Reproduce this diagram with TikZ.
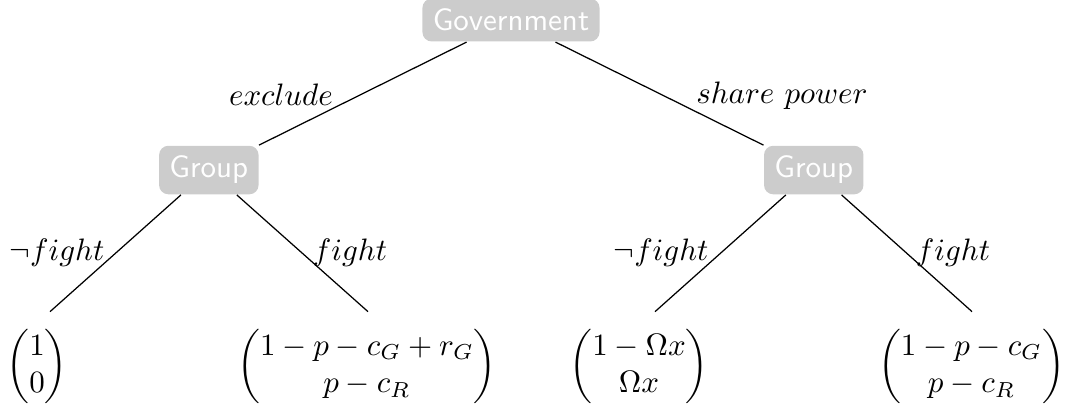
\documentclass[tikz,border=0pt]{standalone}
\usepackage{amsmath,amssymb}

\begin{document}
\begin{tikzpicture}[player/.style={fill=gray!40, text=white, rounded corners=3pt, font=\sffamily}]
	\useasboundingbox (0,0) rectangle (12.212,-4.694);
	% decision nodes
	\node[player] (gov) at (5.794,-0.227) {Government};
	\node[player] (grpL) at (2.368,-1.928) {Group};
	\node[player] (grpR) at (9.227,-1.928) {Group};
	% free ends of the last branches
	\coordinate (endA) at (0.567,-3.534);
	\coordinate (endB) at (4.173,-3.534);
	\coordinate (endC) at (7.427,-3.534);
	\coordinate (endD) at (11.022,-3.534);
	\draw (gov) -- (grpL);
	\draw (gov) -- (grpR);
	\draw (grpL) -- (endA);
	\draw (grpL) -- (endB);
	\draw (grpR) -- (endC);
	\draw (grpR) -- (endD);
	% actions
	\node (exclude) at (3.186,-1.077) {$exclude$};
	\node (share) at (8.867,-1.089) {$share\ power$};
	\node (nofightL) at (0.646,-2.869) {$\neg fight$};
	\node (fightL) at (3.969,-2.869) {$fight$};
	\node (nofightR) at (7.495,-2.869) {$\neg fight$};
	\node (fightR) at (10.806,-2.869) {$fight$};
	% payoffs
	\node (payA) at (0.420,-4.155) {$\begin{pmatrix}1\\0\end{pmatrix}$};
	\node (payB) at (4.161,-4.155) {$\begin{pmatrix}1-p-c_G+r_G\\p-c_R\end{pmatrix}$};
	\node (payC) at (7.246,-4.155) {$\begin{pmatrix}1-\Omega x\\\Omega x\end{pmatrix}$};
	\node (payD) at (11.016,-4.155) {$\begin{pmatrix}1-p-c_G\\p-c_R\end{pmatrix}$};
\end{tikzpicture}
\end{document}
